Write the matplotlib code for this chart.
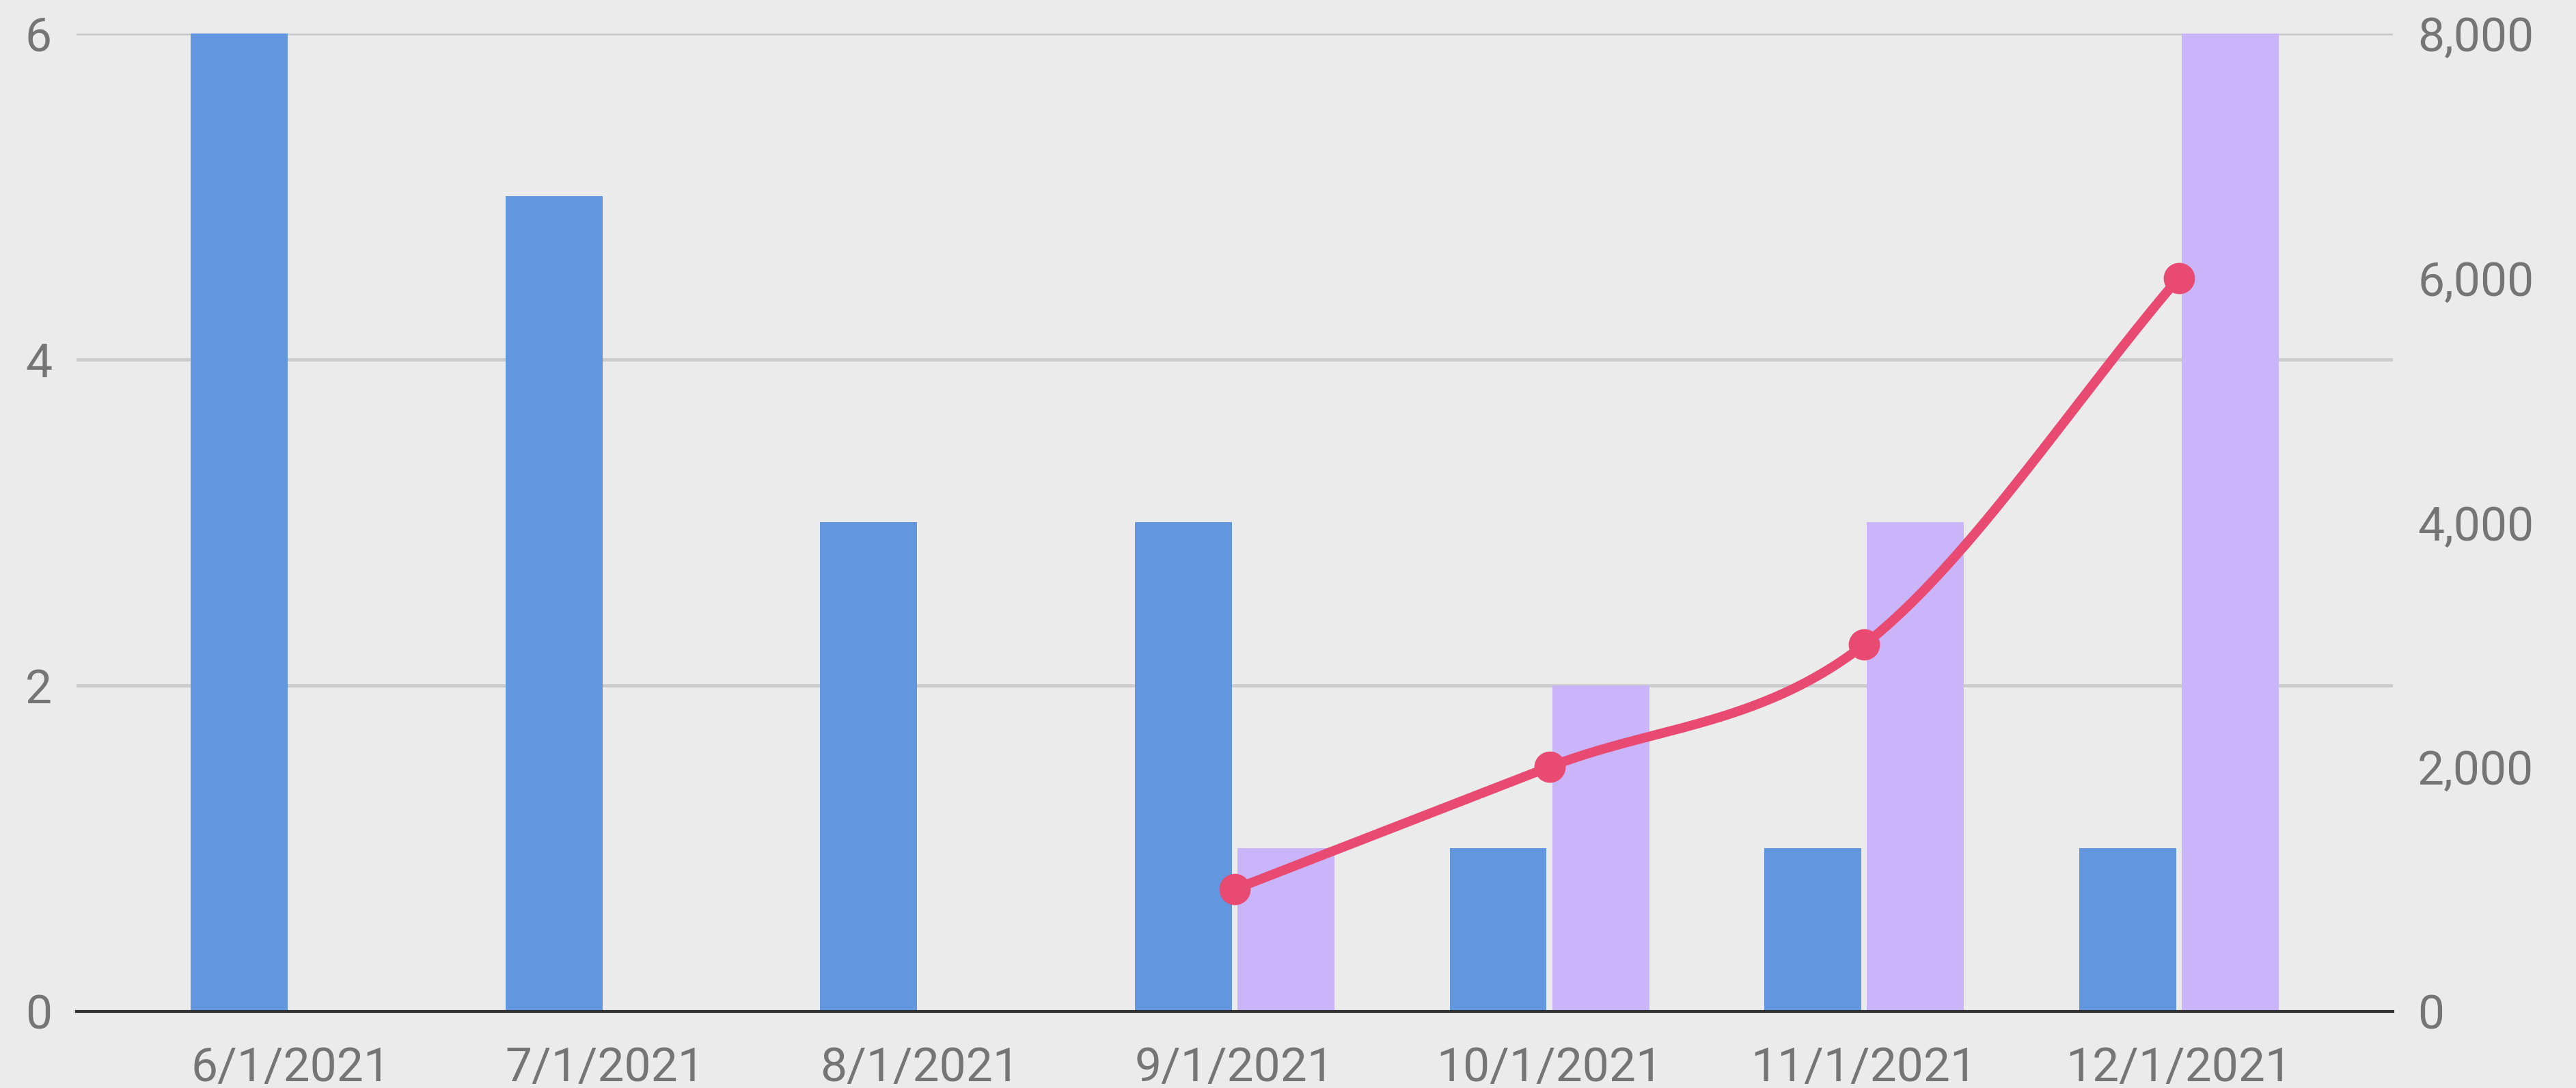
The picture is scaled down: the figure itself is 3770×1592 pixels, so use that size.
import numpy as np
import matplotlib
matplotlib.use("Agg")
import matplotlib.pyplot as plt
from matplotlib.ticker import FuncFormatter

plt.rcParams['font.family'] = ['Roboto', 'DejaVu Sans']

categories = ["6/1/2021", "7/1/2021", "8/1/2021", "9/1/2021", "10/1/2021", "11/1/2021", "12/1/2021"]
series_blue = [6, 5, 3, 3, 1, 1, 1]
series_purple = [0, 0, 0, 1, 2, 3, 6]
line_values = [np.nan, np.nan, np.nan, 1000, 2000, 3000, 6000]
left_ticks = [0, 2, 4, 6]
right_ticks = [0, 2000, 4000, 6000, 8000]

BG = "#EBEBEB"
BLUE = "#6297E0"
PURPLE = "#CAB4FA"
RED = "#E84A72"
GRID = "#CCCCCC"
TXT = "#757575"

W, H = 3770, 1592
fig = plt.figure(figsize=(W / 100, H / 100), dpi=100, facecolor=BG)
L, R, T, B = 112, 3502, 48.7, 1480
ax = fig.add_axes([L / W, (H - B) / H, (R - L) / W, (B - T) / H])
ax.set_facecolor(BG)

x = np.arange(len(categories))
bw = 0.308
off = 0.163
ax.bar(x - off, series_blue, width=bw, color=BLUE, zorder=2)
ax.bar(x + off, series_purple, width=bw, color=PURPLE, zorder=2)

ax.set_xlim(-0.68, 6.68)
ax.set_ylim(0, 6)
ax.set_yticks(left_ticks)
ax.grid(axis='y', color=GRID, linewidth=3.5, zorder=0)
ax.set_axisbelow(True)
for s in ['top', 'right', 'left']:
    ax.spines[s].set_visible(False)
ax.spines['bottom'].set_color('#333333')
ax.spines['bottom'].set_linewidth(3)
ax.spines['bottom'].set_zorder(5)
ax.set_xticks(x)
ax.set_xticklabels(categories)
ax.tick_params(axis='x', length=0, pad=36, labelsize=50, colors=TXT)
ax.tick_params(axis='y', length=0, pad=26, labelsize=50, colors=TXT)

ax2 = ax.twinx()
ax2.set_ylim(0, 8000)
ax2.set_yticks(right_ticks)
ax2.yaxis.set_major_formatter(FuncFormatter(lambda v, p: f"{int(v):,}"))
ax2.tick_params(axis='y', length=0, pad=26, labelsize=50, colors=TXT)
for s in ax2.spines.values():
    s.set_visible(False)

# smooth curve (cubic Hermite) through the line data
lv = np.array(line_values, dtype=float)
mask = ~np.isnan(lv)
xs = x[mask].astype(float)
ys = lv[mask]
n = len(xs)
m = np.zeros(n)
for i in range(n):
    if i == 0:
        m[i] = (ys[1] - ys[0]) / (xs[1] - xs[0])
    elif i == n - 1:
        m[i] = (ys[-1] - ys[-2]) / (xs[-1] - xs[-2])
    else:
        m[i] = (ys[i + 1] - ys[i - 1]) / (xs[i + 1] - xs[i - 1])
cx, cy = [], []
for i in range(n - 1):
    h = xs[i + 1] - xs[i]
    t = np.linspace(0, 1, 60)
    h00 = 2 * t**3 - 3 * t**2 + 1
    h10 = t**3 - 2 * t**2 + t
    h01 = -2 * t**3 + 3 * t**2
    h11 = t**3 - t**2
    cx.append(xs[i] + t * h)
    cy.append(h00 * ys[i] + h10 * h * m[i] + h01 * ys[i + 1] + h11 * h * m[i + 1])
cx = np.concatenate(cx)
cy = np.concatenate(cy)
ax2.plot(cx, cy, color=RED, linewidth=10, solid_capstyle='round', zorder=4)
ax2.plot(xs, ys, 'o', color=RED, markersize=33, markeredgewidth=0, zorder=5)

fig.savefig("out.png", dpi=100, facecolor=BG)
